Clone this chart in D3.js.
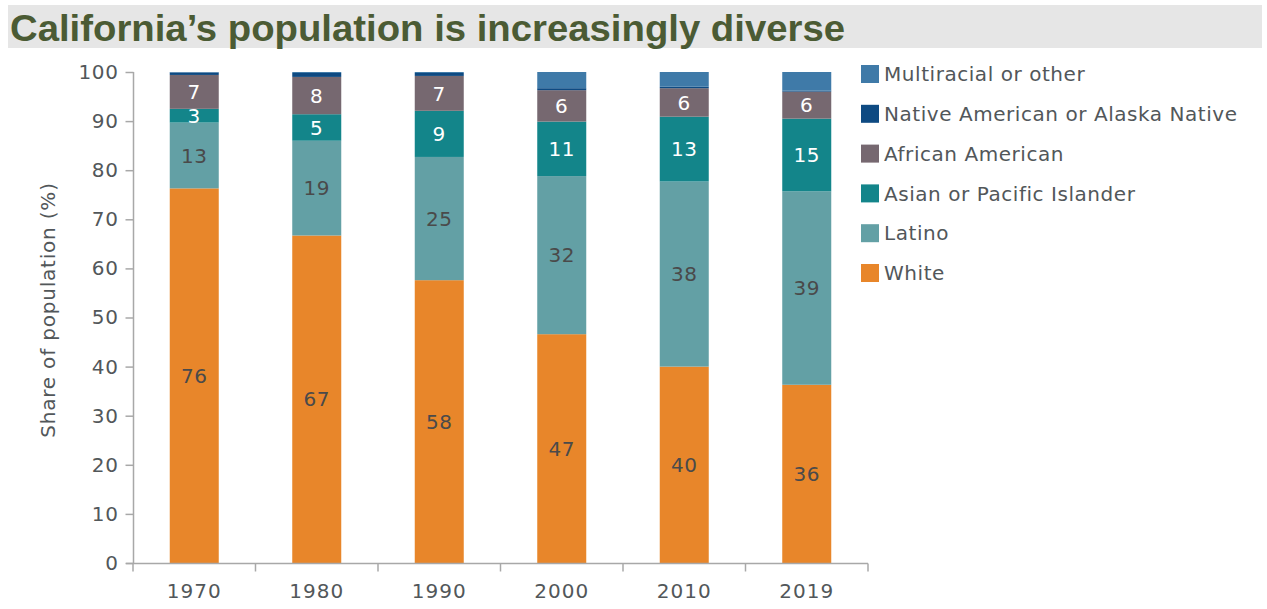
<!DOCTYPE html>
<html>
<head>
<meta charset="utf-8">
<script src="https://cdn.jsdelivr.net/npm/d3@7"></script>
<style>
  html, body { margin: 0; padding: 0; background: #fff; }
  svg { display: block; }
</style>
</head>
<body>
<svg id="chart" width="1267" height="609"></svg>
<script>
// Census years on the x axis
const years = ["1970", "1980", "1990", "2000", "2010", "2019"];

// Share of California's population by group (%), bottom to top of each bar
const white        = [76.3, 66.7, 57.6, 46.6, 40.0, 36.3];
const latino       = [13.4, 19.3, 25.1, 32.2, 37.7, 39.4];
const asianPI      = [2.8, 5.4, 9.4, 11.1, 13.2, 14.8];
const africanAm    = [6.9, 7.6, 7.1, 6.4, 5.8, 5.5];
const nativeAm     = [0.5, 0.8, 0.6, 0.4, 0.3, 0.2];
const multiracial  = [0.1, 0.2, 0.2, 3.3, 3.0, 3.8];

const seriesNames  = ["White", "Latino", "Asian or Pacific Islander", "African American",
                      "Native American or Alaska Native", "Multiracial or other"];
const seriesValues = [white, latino, asianPI, africanAm, nativeAm, multiracial];
const seriesColors = ["#e8862a", "#63a0a5", "#13858a", "#766870", "#0e4a82", "#3f7aa8"];
const labelColors  = ["#4a4a4a", "#4a4a4a", "#ffffff", "#ffffff", null, null];

const yTicks = [0, 10, 20, 30, 40, 50, 60, 70, 80, 90, 100];

const fontFamily = "'DejaVu Sans', 'Open Sans', sans-serif";
const textGray = "#52575a";

const svg = d3.select("#chart");

// Title banner
svg.append("rect")
  .attr("x", 8).attr("y", 5).attr("width", 1254).attr("height", 43)
  .attr("fill", "#e6e6e6");
svg.append("text")
  .attr("x", 10).attr("y", 41)
  .attr("font-family", "'Liberation Sans Narrow', 'Liberation Sans', Arial, sans-serif")
  .attr("font-weight", "bold")
  .attr("font-size", 37)
  .attr("textLength", 835)
  .attr("lengthAdjust", "spacingAndGlyphs")
  .attr("fill", "#4b5b34")
  .text("California\u2019s population is increasingly diverse");

// Scales
const x = d3.scaleBand().domain(years).range([133, 868]).paddingInner(0.6).paddingOuter(0.3);
const y = d3.scaleLinear().domain([0, 100]).range([563, 72]);

// Stack the series
const table = years.map((yr, i) => {
  const row = { year: yr };
  seriesNames.forEach((n, k) => { row[n] = seriesValues[k][i]; });
  return row;
});
const stacked = d3.stack().keys(seriesNames)(table);

const g = svg.append("g");

stacked.forEach((layer, k) => {
  g.append("g").selectAll("rect")
    .data(layer)
    .join("rect")
    .attr("x", d => x(d.data.year))
    .attr("width", x.bandwidth())
    .attr("y", d => y(d[1]))
    .attr("height", d => Math.max(0, y(d[0]) - y(d[1])))
    .attr("fill", seriesColors[k]);
});

// Segment value labels
stacked.forEach((layer, k) => {
  if (!labelColors[k]) return;
  g.append("g").selectAll("text")
    .data(layer)
    .join("text")
    .attr("x", d => x(d.data.year) + x.bandwidth() / 2)
    .attr("y", d => y((d[0] + d[1]) / 2))
    .attr("dy", "0.36em")
    .attr("text-anchor", "middle")
    .attr("font-family", fontFamily)
    .attr("font-size", 20)
    .attr("letter-spacing", 0.6)
    .attr("fill", labelColors[k])
    .text(d => Math.round(d[1] - d[0]));
});

// Y axis
const yAxis = d3.axisLeft(y).tickValues(yTicks).tickSize(8).tickPadding(7);
const yg = svg.append("g").attr("transform", "translate(133.5,0)").call(yAxis);
yg.select(".domain").attr("stroke", "#a8a8a8").attr("stroke-width", 1.5)
  .attr("d", `M0,${y(100)}V${y(0)}`);
yg.selectAll(".tick line").attr("stroke", "#a8a8a8").attr("stroke-width", 1.5);
yg.selectAll(".tick text")
  .attr("font-family", fontFamily).attr("font-size", 20)
  .attr("letter-spacing", 0.6).attr("fill", textGray);

// X axis with ticks between categories
const step = x.step();
const xg = svg.append("g").attr("transform", "translate(0,563.5)");
xg.append("line")
  .attr("x1", 126).attr("x2", x.range()[1])
  .attr("stroke", "#a8a8a8").attr("stroke-width", 1.5);
const bounds = years.map(yr => x(yr) + x.bandwidth() / 2 - step / 2);
bounds.push(x(years[years.length - 1]) + x.bandwidth() / 2 + step / 2);
xg.selectAll("line.sep")
  .data(bounds)
  .join("line")
  .attr("class", "sep")
  .attr("x1", d => d).attr("x2", d => d)
  .attr("y1", 0).attr("y2", 8)
  .attr("stroke", "#a8a8a8").attr("stroke-width", 1.5);
xg.selectAll("text")
  .data(years)
  .join("text")
  .attr("x", d => x(d) + x.bandwidth() / 2)
  .attr("y", 34)
  .attr("text-anchor", "middle")
  .attr("font-family", fontFamily).attr("font-size", 20)
  .attr("letter-spacing", 1).attr("fill", textGray)
  .text(d => d);

// Y axis title
svg.append("text")
  .attr("transform", "translate(55,310) rotate(-90)")
  .attr("text-anchor", "middle")
  .attr("font-family", fontFamily).attr("font-size", 20)
  .attr("letter-spacing", 0.8).attr("fill", textGray)
  .text("Share of population (%)");

// Legend, top entry is the top of the stack
const legendOrder = seriesNames.map((n, k) => k).reverse();
const lg = svg.append("g").attr("transform", "translate(861,65)");
legendOrder.forEach((k, i) => {
  const row = lg.append("g").attr("transform", `translate(0,${i * 39.8})`);
  row.append("rect").attr("width", 18).attr("height", 18).attr("fill", seriesColors[k]);
  row.append("text")
    .attr("x", 23).attr("y", 9).attr("dy", "0.36em")
    .attr("font-family", fontFamily).attr("font-size", 20)
    .attr("letter-spacing", 0.55).attr("fill", textGray)
    .text(seriesNames[k]);
});
</script>
</body>
</html>
